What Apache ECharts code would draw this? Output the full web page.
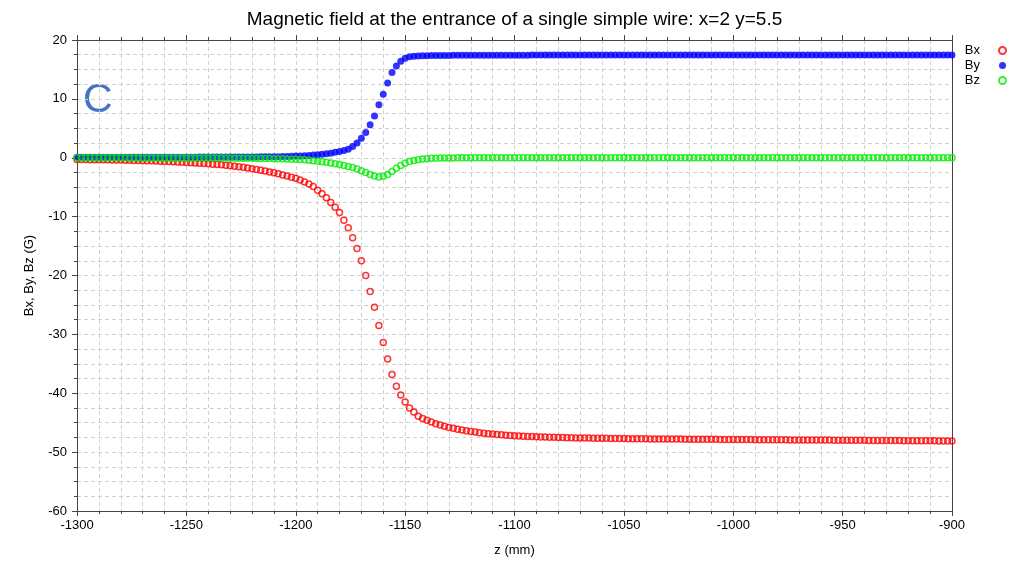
<!DOCTYPE html>
<html>
<head>
<meta charset="utf-8">
<script src="https://cdn.jsdelivr.net/npm/echarts@6/dist/echarts.min.js"></script>
<style>html,body{margin:0;padding:0;background:#fff;}#c{width:1029px;height:562px;}</style>
</head>
<body>
<div id="c"></div>
<script>
// z grid (mm): start and step of the sampling
const zStart = -1300;
const zStep = 2;
const xTicks = [-1300, -1250, -1200, -1150, -1100, -1050, -1000, -950, -900];
const yTicks = [-60, -50, -40, -30, -20, -10, 0, 10, 20];

const Bx = [
-0.30,-0.30,-0.31,-0.32,-0.33,-0.34,-0.35,-0.36,-0.37,-0.38,
-0.40,-0.41,-0.43,-0.45,-0.47,-0.49,-0.51,-0.53,-0.56,-0.59,
-0.62,-0.65,-0.68,-0.72,-0.76,-0.80,-0.84,-0.88,-0.93,-0.98,
-1.03,-1.09,-1.15,-1.21,-1.28,-1.36,-1.44,-1.53,-1.63,-1.74,
-1.86,-1.98,-2.11,-2.25,-2.40,-2.56,-2.73,-2.91,-3.10,-3.30,
-3.50,-3.78,-4.10,-4.45,-4.90,-5.50,-6.10,-6.80,-7.60,-8.40,
-9.30,-10.60,-11.90,-13.60,-15.40,-17.50,-20.00,-22.70,-25.40,-28.50,
-31.40,-34.20,-36.80,-38.80,-40.30,-41.50,-42.50,-43.20,-43.90,-44.30,
-44.60,-44.90,-45.20,-45.40,-45.60,-45.80,-45.95,-46.10,-46.25,-46.35,
-46.50,-46.60,-46.70,-46.78,-46.86,-46.93,-47.00,-47.06,-47.12,-47.17,
-47.22,-47.26,-47.30,-47.33,-47.36,-47.39,-47.42,-47.45,-47.47,-47.49,
-47.51,-47.53,-47.55,-47.57,-47.58,-47.60,-47.61,-47.62,-47.63,-47.64,
-47.65,-47.66,-47.67,-47.68,-47.69,-47.70,-47.71,-47.72,-47.72,-47.73,
-47.74,-47.75,-47.75,-47.76,-47.77,-47.77,-47.78,-47.78,-47.79,-47.80,
-47.80,-47.81,-47.81,-47.82,-47.82,-47.83,-47.83,-47.84,-47.84,-47.85,
-47.85,-47.86,-47.86,-47.87,-47.87,-47.88,-47.88,-47.89,-47.89,-47.90,
-47.90,-47.91,-47.91,-47.92,-47.92,-47.93,-47.93,-47.94,-47.94,-47.95,
-47.95,-47.96,-47.96,-47.97,-47.97,-47.98,-47.98,-47.99,-47.99,-48.00,
-48.00,-48.01,-48.01,-48.02,-48.02,-48.03,-48.03,-48.04,-48.04,-48.05,
-48.05,-48.06,-48.06,-48.07,-48.07,-48.08,-48.08,-48.09,-48.09,-48.10,-48.10
];

const By = [
0.08,0.08,0.08,0.08,0.08,0.08,0.08,0.08,0.08,0.08,
0.08,0.08,0.09,0.09,0.09,0.09,0.09,0.09,0.09,0.09,
0.09,0.10,0.10,0.10,0.10,0.10,0.10,0.10,0.11,0.11,
0.11,0.11,0.11,0.12,0.12,0.12,0.12,0.13,0.13,0.13,
0.14,0.14,0.15,0.16,0.17,0.18,0.19,0.21,0.23,0.25,
0.28,0.31,0.35,0.40,0.45,0.50,0.58,0.67,0.78,0.92,
1.07,1.22,1.45,1.90,2.50,3.30,4.30,5.60,7.10,9.00,
10.80,12.70,14.50,15.60,16.40,16.90,17.15,17.25,17.30,17.32,
17.34,17.35,17.36,17.37,17.38,17.38,17.39,17.39,17.40,17.40,
17.40,17.41,17.41,17.41,17.42,17.42,17.42,17.42,17.43,17.43,
17.43,17.43,17.43,17.43,17.44,17.44,17.44,17.44,17.44,17.44,
17.44,17.44,17.44,17.44,17.44,17.44,17.44,17.44,17.44,17.44,
17.45,17.45,17.45,17.45,17.45,17.45,17.45,17.45,17.45,17.45,
17.45,17.45,17.45,17.45,17.45,17.45,17.45,17.45,17.45,17.45,
17.45,17.45,17.45,17.45,17.45,17.45,17.45,17.45,17.45,17.45,
17.45,17.45,17.45,17.45,17.45,17.45,17.45,17.45,17.45,17.45,
17.45,17.45,17.45,17.45,17.45,17.45,17.45,17.45,17.45,17.45,
17.45,17.45,17.45,17.45,17.45,17.45,17.45,17.45,17.45,17.45,
17.45,17.45,17.45,17.45,17.45,17.45,17.45,17.45,17.45,17.45,
17.45,17.45,17.45,17.45,17.45,17.45,17.45,17.45,17.45,17.45,17.45
];

const Bz = [
-0.02,-0.02,-0.02,-0.02,-0.02,-0.02,-0.02,-0.02,-0.02,-0.02,
-0.02,-0.02,-0.03,-0.03,-0.03,-0.03,-0.03,-0.03,-0.03,-0.03,
-0.04,-0.04,-0.04,-0.04,-0.04,-0.04,-0.04,-0.04,-0.04,-0.04,
-0.05,-0.05,-0.05,-0.06,-0.06,-0.07,-0.07,-0.08,-0.08,-0.09,
-0.10,-0.11,-0.12,-0.13,-0.14,-0.15,-0.17,-0.19,-0.21,-0.24,
-0.27,-0.30,-0.35,-0.42,-0.50,-0.58,-0.67,-0.77,-0.88,-1.00,
-1.15,-1.30,-1.47,-1.65,-1.90,-2.20,-2.50,-2.85,-3.10,-3.25,
-3.15,-2.85,-2.35,-1.80,-1.30,-0.95,-0.65,-0.45,-0.32,-0.22,
-0.15,-0.10,-0.07,-0.05,-0.04,-0.03,-0.03,-0.02,-0.02,-0.02,
-0.01,-0.01,-0.01,-0.01,-0.01,-0.01,-0.01,-0.01,-0.01,-0.01,
0.00,0.00,0.00,0.00,0.00,0.00,0.00,0.00,0.00,0.00,
0.00,0.00,0.00,0.00,0.00,0.00,0.00,0.00,0.00,0.00,
0.01,0.01,0.01,0.01,0.01,0.01,0.01,0.01,0.01,0.01,
0.02,0.02,0.02,0.02,0.02,0.02,0.02,0.02,0.02,0.02,
0.02,0.02,0.02,0.02,0.02,0.02,0.02,0.02,0.02,0.02,
0.02,0.02,0.02,0.02,0.02,0.02,0.02,0.02,0.02,0.02,
0.02,0.02,0.02,0.02,0.02,0.02,0.02,0.02,0.02,0.02,
0.02,0.02,0.02,0.02,0.02,0.02,0.02,0.02,0.02,0.02,
0.02,0.02,0.02,0.02,0.02,0.02,0.02,0.02,0.02,0.02,
0.02,0.02,0.02,0.02,0.02,0.02,0.02,0.02,0.02,0.02,0.02
];

const FONT = '"Liberation Sans", Arial, sans-serif';
const pairs = arr => arr.map((v, i) => [zStart + i * zStep, v]);

const gridLine = { show: true, lineStyle: { color: '#d0d0d0', type: [4, 3], width: 1 } };
const axisLineStyle = { show: true, onZero: false, lineStyle: { color: '#444', width: 1 } };

const chart = echarts.init(document.getElementById('c'), null, { renderer: 'canvas' });
chart.setOption({
  animation: false,
  backgroundColor: '#fff',
  title: {
    text: 'Magnetic field at the entrance of a single simple wire: x=2 y=5.5',
    left: 'center', top: 5,
    textStyle: { fontFamily: FONT, fontSize: 19, fontWeight: 'normal', color: '#000' }
  },
  legend: {
    orient: 'vertical', right: 17, top: 39, align: 'right',
    itemWidth: 7, itemHeight: 7, itemGap: 2,
    textStyle: { fontFamily: FONT, fontSize: 13, color: '#000', padding: [0, 14, 0, 0] },
    data: ['Bx', 'By', 'Bz']
  },
  grid: { left: 77, right: 77, top: 40, bottom: 50, containLabel: false },
  graphic: [{
    type: 'text', left: 83, top: 80,
    style: { text: 'C', fontFamily: FONT, fontSize: 41, fill: '#4472c4' }
  }],
  xAxis: [{
    type: 'value', min: -1300, max: -900, interval: 50,
    name: 'z (mm)', nameLocation: 'middle', nameGap: 33,
    nameTextStyle: { fontFamily: FONT, fontSize: 13, color: '#000' },
    axisLine: axisLineStyle,
    axisTick: { show: true, length: 5, lineStyle: { color: '#444' } },
    minorTick: { show: true, splitNumber: 5, length: 3, lineStyle: { color: '#444' } },
    axisLabel: { fontFamily: FONT, fontSize: 13, color: '#000', margin: 8,
      formatter: v => xTicks.includes(v) ? String(v) : '' },
    splitLine: gridLine,
    minorSplitLine: gridLine
  }, {
    type: 'value', position: 'top', min: -1300, max: -900, interval: 50,
    axisLine: axisLineStyle,
    axisTick: { show: true, length: 5, lineStyle: { color: '#444' } },
    minorTick: { show: true, splitNumber: 5, length: 3, lineStyle: { color: '#444' } },
    axisLabel: { show: false }, splitLine: { show: false }
  }],
  yAxis: [{
    type: 'value', min: -60, max: 20, interval: 10,
    name: 'Bx, By, Bz (G)', nameLocation: 'middle', nameGap: 41,
    nameTextStyle: { fontFamily: FONT, fontSize: 13, color: '#000' },
    axisLine: axisLineStyle,
    axisTick: { show: true, length: 5, lineStyle: { color: '#444' } },
    minorTick: { show: true, splitNumber: 4, length: 3, lineStyle: { color: '#444' } },
    axisLabel: { fontFamily: FONT, fontSize: 13, color: '#000', margin: 10,
      formatter: v => yTicks.includes(v) ? String(v) : '' },
    splitLine: gridLine,
    minorSplitLine: gridLine
  }, {
    type: 'value', position: 'right', min: -60, max: 20, interval: 10,
    axisLine: axisLineStyle, axisTick: { show: false },
    axisLabel: { show: false }, splitLine: { show: false }
  }],
  series: [
    { name: 'Bx', type: 'scatter', symbol: 'circle', symbolSize: 6,
      itemStyle: { color: 'rgba(255,255,255,0)', borderColor: '#ff0000', borderWidth: 1.5 },
      data: pairs(Bx) },
    { name: 'By', type: 'scatter', symbol: 'circle', symbolSize: 7,
      itemStyle: { color: '#0000ff' },
      data: pairs(By) },
    { name: 'Bz', type: 'scatter', symbol: 'circle', symbolSize: 6,
      itemStyle: { color: 'rgba(255,255,255,0)', borderColor: '#00ee00', borderWidth: 1.5 },
      data: pairs(Bz) }
  ]
});
</script>
</body>
</html>
